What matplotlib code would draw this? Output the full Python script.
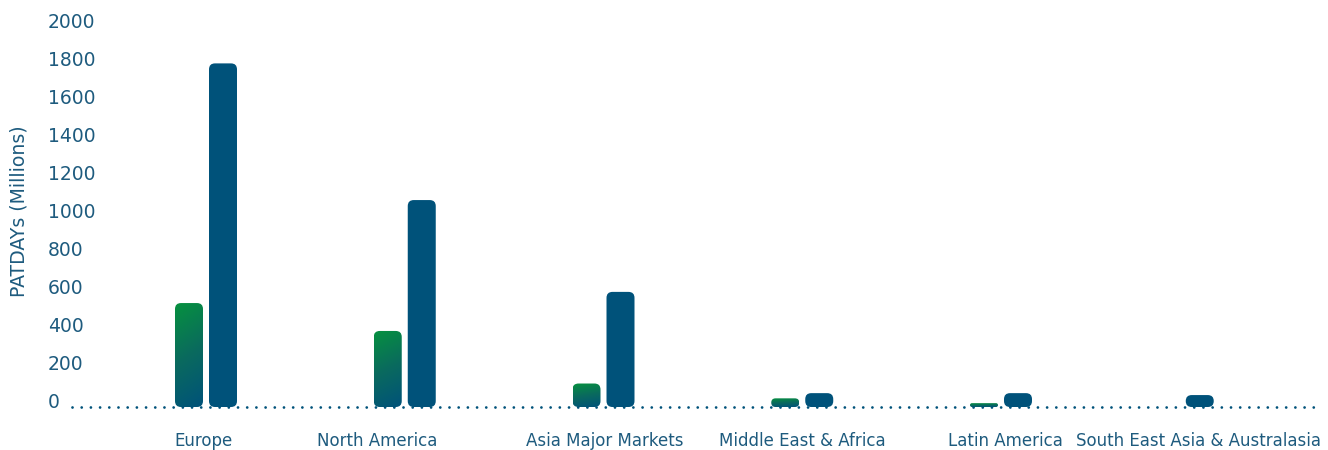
import numpy as np
import matplotlib
matplotlib.use("Agg")
import matplotlib.pyplot as plt
from matplotlib.patches import FancyBboxPatch
from matplotlib.colors import LinearSegmentedColormap

regions = ["Europe", "North America", "Asia Major Markets", "Middle East & Africa",
           "Latin America", "South East Asia & Australasia"]
green_vals = [540, 395, 122, 45, 20, None]
blue_vals = [1785, 1075, 598, 72, 72, 62]
yticks = [0, 200, 400, 600, 800, 1000, 1200, 1400, 1600, 1800, 2000]
# nudges (px) of the category labels relative to their bar pairs
label_shift_px = [-2.5, -28, 1, 0.5, 4.5, -1]

BLUE = "#00527a"
GREEN = "#06913f"
TEXT = "#1e5b7e"

W, H, DPI = 1328, 450, 100
fig = plt.figure(figsize=(W / DPI, H / DPI), dpi=DPI)
ax_l, ax_r, ax_b, ax_t = 72, 1322, 407, 22
ax = fig.add_axes([ax_l / W, (H - ax_b) / H, (ax_r - ax_l) / W, (ax_b - ax_t) / H])
x0_px, step_px = 206, 198.75
ax.set_xlim((ax_l - x0_px) / step_px, (ax_r - x0_px) / step_px)
ax.set_ylim(0, 2000)
ax.axis("off")

px_x = 1 / step_px               # data units per pixel (x)
px_y = 2000 / (ax_b - ax_t)      # data units per pixel (y)
bar_w = 28 * px_x
off = 17 * px_x
radius = 6

grad_cmap = LinearSegmentedColormap.from_list("gb", [BLUE, "#0a6a5e", GREEN])


def rounded_bar(xc, val, color=None, gradient=False):
    h_px = val / px_y
    r = min(radius, h_px / 2)
    patch = FancyBboxPatch((xc - bar_w / 2, 0), bar_w, val,
                           boxstyle="round,pad=0,rounding_size=%f" % (r * px_x),
                           mutation_aspect=px_y / px_x,
                           linewidth=0, facecolor=color if not gradient else "none",
                           clip_on=False, zorder=2)
    ax.add_patch(patch)
    if gradient:
        yy, xx = np.mgrid[0:1:300j, 0:1:60j]
        g = np.clip(yy * 0.85 + (1 - xx) * 0.15, 0, 1)
        im = ax.imshow(g, cmap=grad_cmap, origin="lower", aspect="auto",
                       extent=(xc - bar_w / 2, xc + bar_w / 2, 0, val),
                       zorder=2, interpolation="bilinear")
        im.set_clip_path(patch)


for i, (g, b) in enumerate(zip(green_vals, blue_vals)):
    if g is None:
        rounded_bar(i, b, color=BLUE)
    else:
        rounded_bar(i - off, g, gradient=True)
        rounded_bar(i + off, b, color=BLUE)

ax.set_xlim((ax_l - x0_px) / step_px, (ax_r - x0_px) / step_px)
ax.set_ylim(0, 2000)

# dotted zero line
ax.plot([(ax_l - x0_px) / step_px, (ax_r - x0_px) / step_px], [0, 0],
        color=BLUE, lw=2.0, linestyle=(0, (0.01, 3.3)), dash_capstyle="round",
        clip_on=False, zorder=3)

for t in yticks:
    ax.text(48 / W, (H - (403 - t / 2000 * 381)) / H, str(t), transform=fig.transFigure,
            ha="left", va="center", fontsize=13.5, color=TEXT)

for i, name in enumerate(regions):
    ax.text(i + label_shift_px[i] * px_x, -34 * px_y, name, ha="center", va="center",
            fontsize=12, color=TEXT, clip_on=False)

fig.text(19 / W, (H - 211) / H, "PATDAYs (Millions)", rotation=90, ha="center",
         va="center", fontsize=13.6, color=TEXT)

fig.savefig("out.png", dpi=DPI)
